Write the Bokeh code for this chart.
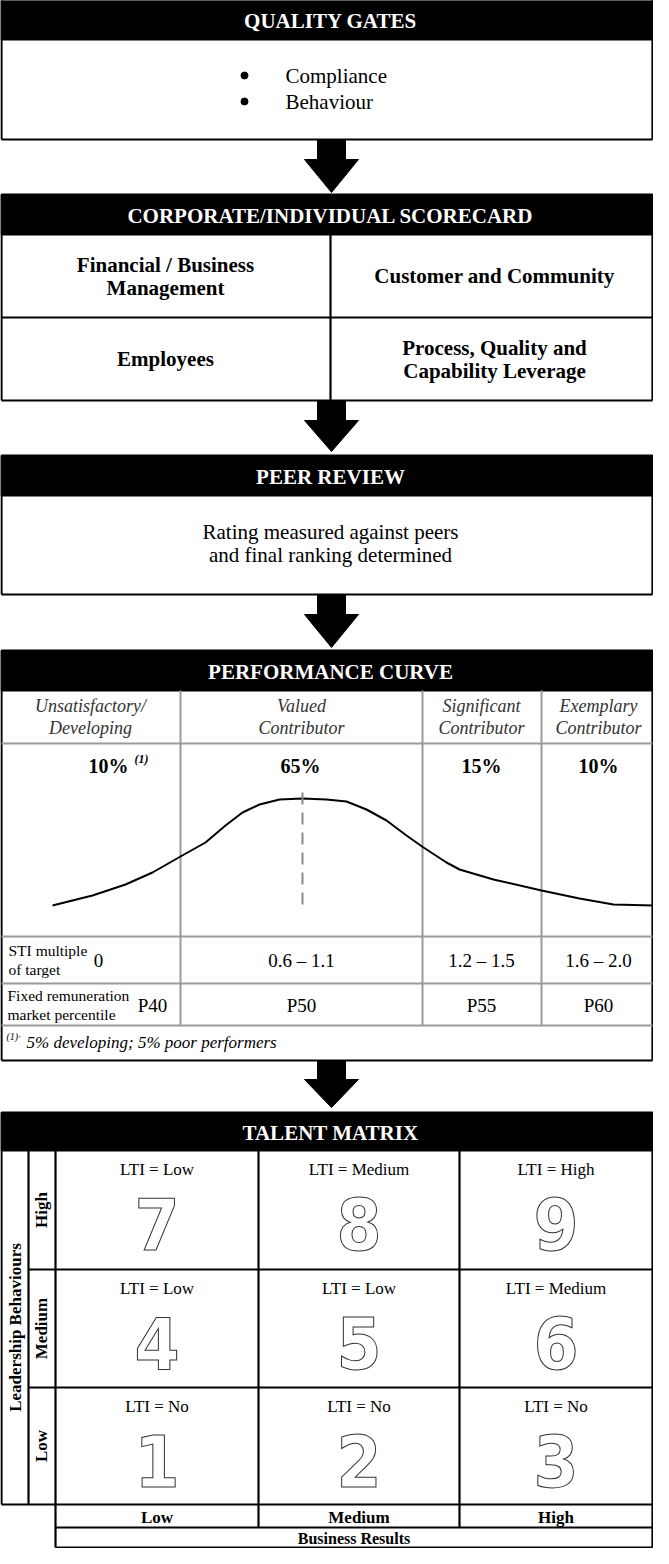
from math import pi
from bokeh.plotting import figure
from bokeh.models import Range1d
from bokeh.core.properties import value
from bokeh.embed import file_html
from bokeh.resources import INLINE

# ------------------------------------------------------------------ data
section_titles = ["QUALITY GATES", "CORPORATE/INDIVIDUAL SCORECARD", "PEER REVIEW",
                  "PERFORMANCE CURVE", "TALENT MATRIX"]
gate_items = ["Compliance", "Behaviour"]
scorecard_items = [["Financial / Business", "Management"], ["Customer and Community"],
                   ["Employees"], ["Process, Quality and", "Capability Leverage"]]
peer_review_lines = ["Rating measured against peers", "and final ranking determined"]

perf_categories = [["Unsatisfactory/", "Developing"], ["Valued", "Contributor"],
                   ["Significant", "Contributor"], ["Exemplary", "Contributor"]]
perf_share = ["10%", "65%", "15%", "10%"]
sti_label = ["STI multiple", "of target"]
sti_multiple = ["0", "0.6 \u2013 1.1", "1.2 \u2013 1.5", "1.6 \u2013 2.0"]
fixed_label = ["Fixed remuneration", "market percentile"]
fixed_percentile = ["P40", "P50", "P55", "P60"]
footnote_mark = "(1)\u00b7"
footnote_text = "5% developing; 5% poor performers"

# distribution curve (page pixels)
curve_x = [60, 100, 133, 160, 188, 213, 233, 250, 267, 287, 310, 334, 354, 374, 394,
           414, 431, 454, 467, 501, 549, 587, 621, 662]
curve_y = [913, 903, 892, 880, 864, 850, 833, 820, 812, 807, 806, 807, 809, 817, 828,
           843, 855, 870, 877, 887, 898, 906, 912, 913]
median_x = 310

behaviour_levels = ["High", "Medium", "Low"]
business_levels = ["Low", "Medium", "High"]
talent_box = [[7, 8, 9], [4, 5, 6], [1, 2, 3]]
talent_lti = [["Low", "Medium", "High"], ["Low", "Low", "Medium"], ["No", "No", "No"]]

# ------------------------------------------------------------------ layout (page pixels)
L, R = 9, 660
CX = 338
SERIF = value("Liberation Serif")
NARROW = value("Liberation Sans Narrow, DejaVu Sans Condensed, Liberation Sans")

qg = dict(top=7, hdr=47, bot=147)
sc = dict(top=202, hdr=242, mid=325, bot=408, div=338)
pr = dict(top=463, hdr=503, bot=602)
pc = dict(top=658, hdr=698, lab=751, sti=944, fix=991, foot=1033, bot=1068)
pc_cols = [L, 188, 430, 549, R]
pc_centers = [98, 309, 489, 606]
tm = dict(top=1120, hdr=1158)
tm_rows = [1158, 1277, 1395, 1512]
tm_bottom = [1512, 1535, 1555]
tm_cols = [63, 266, 467, R]
tm_left = [L, 36, 63]
arrows = [(147, 167, 200), (408, 428, 459), (602, 622, 655), (1068, 1087, 1115)]

p = figure(width=653, height=1548, x_range=Range1d(8, 661), y_range=Range1d(1556, 8),
           output_backend="svg", toolbar_location=None, x_axis_type=None,
           y_axis_type=None, min_border=0, outline_line_color=None,
           background_fill_color="white", border_fill_color="white")

# ---- black header bands
hdr_tops = [qg["top"], sc["top"], pr["top"], pc["top"], tm["top"]]
hdr_bots = [qg["hdr"], sc["hdr"], pr["hdr"], pc["hdr"], tm["hdr"]]
p.quad(left=L, right=R, top=hdr_tops, bottom=hdr_bots, fill_color="black",
       line_color="black", line_width=2)

# ---- black lines
bx0, by0, bx1, by1 = [], [], [], []


def seg(x0, y0, x1, y1, store):
    store[0].append(x0); store[1].append(y0); store[2].append(x1); store[3].append(y1)


black = (bx0, by0, bx1, by1)
for box in (qg, sc, pr):
    seg(L, box["top"], L, box["bot"], black)
    seg(R, box["top"], R, box["bot"], black)
    seg(L, box["bot"], R, box["bot"], black)
seg(L, sc["mid"], R, sc["mid"], black)
seg(sc["div"], sc["hdr"], sc["div"], sc["bot"], black)
# performance outer
seg(L, pc["top"], L, pc["bot"], black)
seg(R, pc["top"], R, pc["bot"], black)
seg(L, pc["bot"], R, pc["bot"], black)
# talent matrix
seg(L, tm["top"], L, tm_rows[-1], black)
seg(R, tm["top"], R, tm_bottom[-1], black)
seg(tm_left[1], tm_rows[0], tm_left[1], tm_rows[-1], black)
seg(tm_cols[0], tm_rows[0], tm_cols[0], tm_bottom[-1], black)
for yy in tm_rows[1:-1]:
    seg(tm_left[1], yy, R, yy, black)
seg(L, tm_rows[-1], R, tm_rows[-1], black)
for yy in tm_bottom[1:]:
    seg(tm_cols[0], yy, R, yy, black)
for xx in tm_cols[1:-1]:
    seg(xx, tm_rows[0], xx, tm_bottom[1], black)
p.segment(x0=bx0, y0=by0, x1=bx1, y1=by1, line_color="black", line_width=2.2)

# ---- grey lines of the performance table
gx0, gy0, gx1, gy1 = [], [], [], []
grey = (gx0, gy0, gx1, gy1)
for yy in (pc["lab"], pc["sti"], pc["fix"], pc["foot"]):
    seg(L, yy, R, yy, grey)
for xx in pc_cols[1:-1]:
    seg(xx, pc["hdr"], xx, pc["foot"], grey)
p.segment(x0=gx0, y0=gy0, x1=gx1, y1=gy1, line_color="#9a9a9a", line_width=2)

# ---- arrows
axs, ays = [], []
ax = CX + 1
for s0, s1, tip in arrows:
    axs.append([ax - 14, ax + 14, ax + 14, ax + 27, ax, ax - 27, ax - 14])
    ays.append([s0, s0, s1, s1, tip, s1, s1])
p.patches(xs=axs, ys=ays, fill_color="black", line_color="black", line_width=1)

# ---- curve
p.line(x=curve_x, y=curve_y, line_color="black", line_width=2)
p.line(x=[median_x, median_x], y=[800, 920], line_color="#8a8a8a", line_width=2,
       line_dash="12 8")

# ---- bullets of the quality gates
p.scatter(x=[252, 252], y=[83, 109], marker="circle", size=7, fill_color="black",
          line_color="black")


# ------------------------------------------------------------------ texts
def txt(x, y, t, size, style="normal", color="black", align="center", font=SERIF, **kw):
    p.text(x=x, y=y, text=t, text_font=font, text_font_size=size,
           text_font_style=style, text_color=color, text_align=align,
           text_baseline="middle", **kw)


hdr_y = [(a + b) / 2 + 1 for a, b in zip(hdr_tops, hdr_bots)]
txt([CX] * 5, hdr_y, section_titles, "21px", "bold", "white")

# quality gates
txt([293, 293], [83, 109], gate_items, "21px", align="left")

# scorecard
sc_cx = [173, 502, 173, 502]
sc_cy = [(sc["hdr"] + sc["mid"]) / 2, (sc["hdr"] + sc["mid"]) / 2,
         (sc["mid"] + sc["bot"]) / 2, (sc["mid"] + sc["bot"]) / 2]
xs, ys, ts = [], [], []
for cx, cy, lines in zip(sc_cx, sc_cy, scorecard_items):
    n = len(lines)
    for i, t in enumerate(lines):
        xs.append(cx); ys.append(cy + (i - (n - 1) / 2) * 23); ts.append(t)
txt(xs, ys, ts, "21px", "bold")

# peer review
txt([CX, CX], [539, 562], peer_review_lines, "21px")

# performance curve
xs, ys, ts = [], [], []
for cx, lines in zip(pc_centers, perf_categories):
    xs += [cx, cx]; ys += [713, 735]; ts += lines
txt(xs, ys, ts, "18px", "italic", "#333333")
share_x = [116, 308, 489, 606]
txt(share_x, [773] * 4, perf_share, "20px", "bold")
txt([142], [766], ["(1)"], "12px", "bold italic", align="left")
txt([16, 16], [958, 977], sti_label, "15.5px", align="left")
txt([15, 15], [1003, 1022], fixed_label, "15.5px", align="left")
txt([106] + pc_centers[1:], [968] * 4, sti_multiple, "19px")
txt([160] + pc_centers[1:], [1013] * 4, fixed_percentile, "19px")
txt([14], [1044], [footnote_mark], "10px", "italic", align="left")
txt([34], [1050], [footnote_text], "17px", "italic", align="left")

# talent matrix
tcx = [(a + b) / 2 for a, b in zip(tm_cols[:-1], tm_cols[1:])]
xs, ys, ts, dx, dy, dt = [], [], [], [], [], []
for r in range(3):
    top = tm_rows[r]
    for c in range(3):
        xs.append(tcx[c]); ys.append(top + 19); ts.append("LTI = " + talent_lti[r][c])
        dx.append(tcx[c]); dy.append(top + 73); dt.append(str(talent_box[r][c]))
txt(xs, ys, ts, "17px")
txt(dx, dy, dt, "72px", "bold", color="white", font=NARROW,
    text_outline_color="#333333")

row_cy = [(a + b) / 2 for a, b in zip(tm_rows[:-1], tm_rows[1:])]
txt([49] * 3, row_cy, behaviour_levels, "17px", "bold", angle=pi / 2)
txt([23], [(tm_rows[0] + tm_rows[-1]) / 2], ["Leadership Behaviours"], "17px", "bold",
    angle=pi / 2)
txt(tcx, [(tm_bottom[0] + tm_bottom[1]) / 2 + 1] * 3, business_levels, "17px", "bold")
txt([(tm_cols[0] + R) / 2], [(tm_bottom[1] + tm_bottom[2]) / 2 + 1], ["Business Results"],
    "16px", "bold")

open("out.html", "w").write(file_html(p, INLINE))
